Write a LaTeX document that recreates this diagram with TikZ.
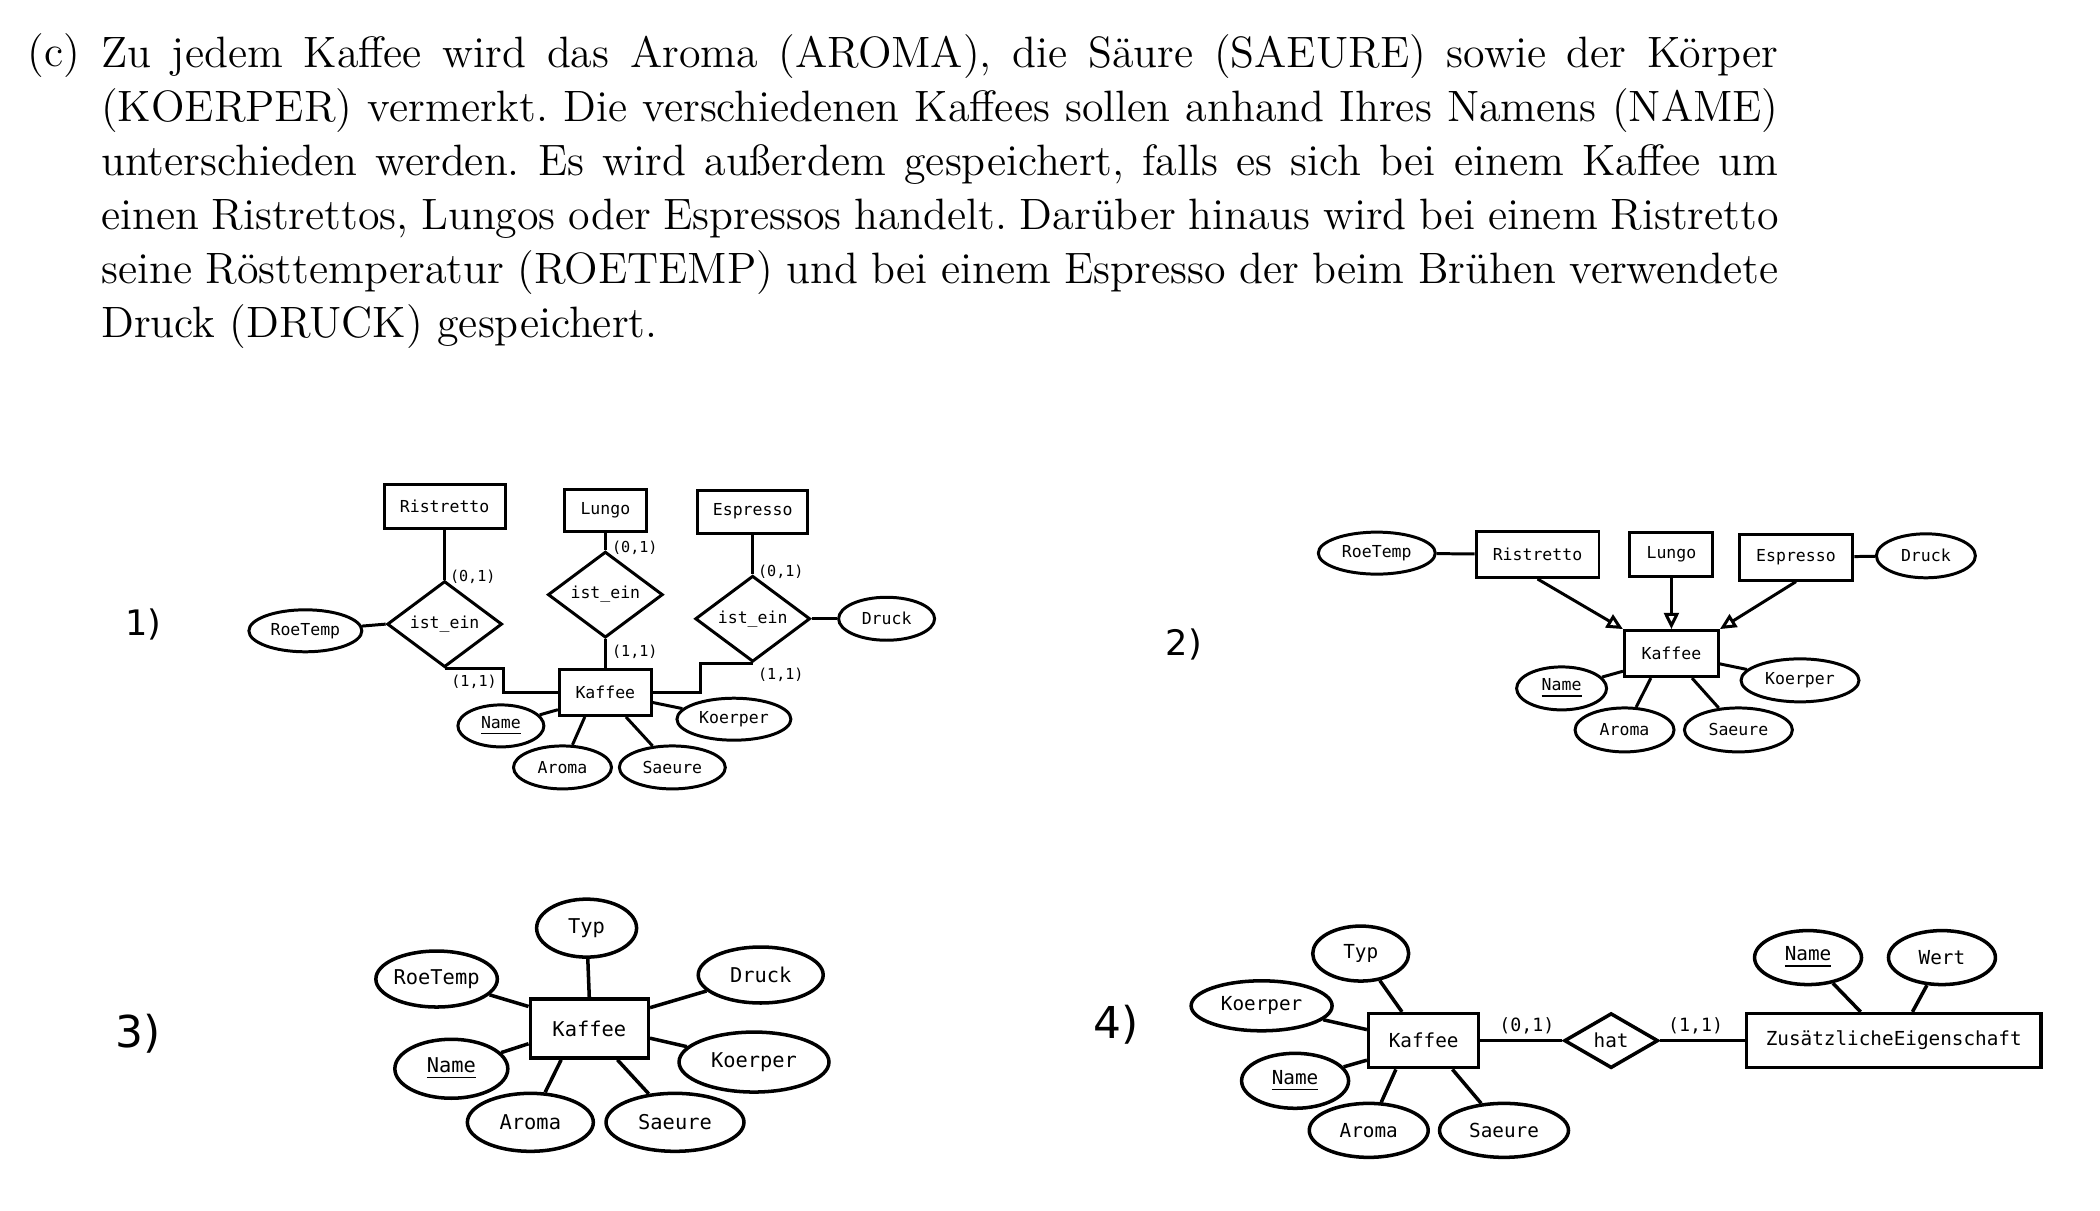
\documentclass[tikz,border=0pt]{standalone}
\usepackage{fontspec}
\setmonofont{DejaVu Sans Mono}
\newfontfamily\numfont{DejaVu Sans}
\usepackage{tikz}
\usetikzlibrary{shapes,arrows.meta}
\tikzstyle{entity} = [draw=black, rectangle, inner sep=0pt]
\tikzstyle{attr} = [draw=black, ellipse, inner sep=0pt]
\tikzstyle{rel} = [draw=black, diamond, inner sep=0pt]
\tikzstyle{card} = [inner sep=0pt]
\tikzstyle{isa} = [-{Triangle[open, length=4.6pt, width=4.2pt]}]
\tikzstyle{ersmall} = [line width=0.85pt, font=\ttfamily\fontsize{4.7}{5.6}\selectfont]
\tikzstyle{erlarge} = [line width=1pt, font=\ttfamily\fontsize{5.7}{6.8}\selectfont]
\frenchspacing

\begin{document}
\begin{tikzpicture}[x=0.013393cm, y=-0.013393cm]
        % Bounding box
        \useasboundingbox (0,0) rectangle (1568,903.5);

        % Task text
        \node[anchor=base west, inner sep=0pt, font=\fontsize{12.5}{15.4}\selectfont] (lblc) at (20,50) {(c)};
        \node[anchor=north west, inner sep=0pt, align=left, font=\fontsize{12.5}{15.4}\selectfont] (task) at (75,25) {%
          \makebox[16.78cm][s]{Zu jedem Kaffee wird das Aroma (AROMA), die Säure (SAEURE) sowie der Körper}\\
          \makebox[16.78cm][s]{(KOERPER) vermerkt. Die verschiedenen Kaffees sollen anhand Ihres Namens (NAME)}\\
          \makebox[16.78cm][s]{unterschieden werden. Es wird außerdem gespeichert, falls es sich bei einem Kaffee um}\\
          \makebox[16.78cm][s]{einen Ristrettos, Lungos oder Espressos handelt. Darüber hinaus wird bei einem Ristretto}\\
          \makebox[16.78cm][s]{seine Rösttemperatur (ROETEMP) und bei einem Espresso der beim Brühen verwendete}\\
          Druck (DRUCK) gespeichert.};

        % Numbers
        \node[font=\numfont\fontsize{10}{12}\selectfont] (num1) at (107,466) {1)};
        \node[font=\numfont\fontsize{10}{12}\selectfont] (num2) at (884,481) {2)};
        \node[font=\numfont\fontsize{12.5}{15}\selectfont] (num3) at (103,772) {3)};
        \node[font=\numfont\fontsize{12.5}{15}\selectfont] (num4) at (833,765) {4)};

        % 1) relationships ist_ein
        \begin{scope}[ersmall]
        \node[entity, minimum width=1.21cm, minimum height=0.44cm] (rist1) at (332,378) {Ristretto};
        \node[entity, minimum width=0.82cm, minimum height=0.42cm] (lung1) at (452,381) {Lungo};
        \node[entity, minimum width=1.10cm, minimum height=0.43cm] (esp1) at (562,382) {Espresso};
        \node[rel, minimum width=1.15cm, minimum height=0.70cm] (isa1) at (332,466) {ist\_ein};
        \node[rel, minimum width=1.15cm, minimum height=0.70cm] (isa2) at (452,444) {ist\_ein};
        \node[rel, minimum width=1.15cm, minimum height=0.70cm] (isa3) at (562,462) {ist\_ein};
        \node[attr, minimum width=1.13cm, minimum height=0.42cm] (roe1) at (228,471) {RoeTemp};
        \node[attr, minimum width=0.96cm, minimum height=0.43cm] (druck1) at (662,462) {Druck};
        \node[entity, minimum width=0.92cm, minimum height=0.46cm] (kaf1) at (452,517) {Kaffee};
        \node[attr, minimum width=0.86cm, minimum height=0.42cm] (name1) at (374,542) {\underline{Name}};
        \node[attr, minimum width=0.98cm, minimum height=0.43cm] (aroma1) at (420,573) {Aroma};
        \node[attr, minimum width=1.06cm, minimum height=0.43cm] (saeure1) at (502,573) {Saeure};
        \node[attr, minimum width=1.14cm, minimum height=0.42cm] (koerper1) at (548,537) {Koerper};

        \draw (rist1.south) -- (isa1.north);
        \draw (isa1.south) -- ++(44,0) |- (kaf1.west);
        \draw (lung1.south) -- (isa2.north);
        \draw (isa2.south) -- (kaf1.north);
        \draw (esp1.south) -- (isa3.north);
        \draw (isa3.south) -- ++(-39,0) |- (kaf1.east);
        \draw (roe1) -- (isa1.west);
        \draw (isa3.east) -- (druck1);
        \draw (kaf1.-160) -- (name1);
        \draw (kaf1.-130) -- (aroma1);
        \draw (kaf1.-50) -- (saeure1);
        \draw (kaf1.-12) -- (koerper1);

        \node[card, font=\ttfamily\fontsize{4.3}{5}\selectfont] (c1a) at (353,431) {(0,1)};
        \node[card, font=\ttfamily\fontsize{4.3}{5}\selectfont] (c1b) at (354,509) {(1,1)};
        \node[card, font=\ttfamily\fontsize{4.3}{5}\selectfont] (c1c) at (474,409) {(0,1)};
        \node[card, font=\ttfamily\fontsize{4.3}{5}\selectfont] (c1d) at (474,487) {(1,1)};
        \node[card, font=\ttfamily\fontsize{4.3}{5}\selectfont] (c1e) at (583,427) {(0,1)};
        \node[card, font=\ttfamily\fontsize{4.3}{5}\selectfont] (c1f) at (583,504) {(1,1)};
        \end{scope}

        % 2) generalisation
        \begin{scope}[ersmall]
        \node[attr, minimum width=1.17cm, minimum height=0.42cm] (roe2) at (1028,413) {RoeTemp};
        \node[entity, minimum width=1.23cm, minimum height=0.46cm] (rist2) at (1148,414) {Ristretto};
        \node[entity, minimum width=0.83cm, minimum height=0.44cm] (lung2) at (1248,414) {Lungo};
        \node[entity, minimum width=1.14cm, minimum height=0.46cm] (esp2) at (1341,416) {Espresso};
        \node[attr, minimum width=0.99cm, minimum height=0.44cm] (druck2) at (1438,415) {Druck};
        \node[entity, minimum width=0.94cm, minimum height=0.46cm] (kaf2) at (1248,488) {Kaffee};
        \node[attr, minimum width=0.90cm, minimum height=0.43cm] (name2) at (1166,514) {\underline{Name}};
        \node[attr, minimum width=0.99cm, minimum height=0.44cm] (aroma2) at (1213,545) {Aroma};
        \node[attr, minimum width=1.08cm, minimum height=0.44cm] (saeure2) at (1298,545) {Saeure};
        \node[attr, minimum width=1.18cm, minimum height=0.43cm] (koerper2) at (1344,508) {Koerper};

        \draw (roe2) -- (rist2);
        \draw (esp2) -- (druck2);
        \draw[isa] (rist2.south) -- (kaf2.north west);
        \draw[isa] (lung2.south) -- (kaf2.north);
        \draw[isa] (esp2.south) -- (kaf2.north east);
        \draw (kaf2.-160) -- (name2);
        \draw (kaf2.-130) -- (aroma2);
        \draw (kaf2.-50) -- (saeure2);
        \draw (kaf2.-12) -- (koerper2);
        \end{scope}

        % 3) one entity with Typ
        \begin{scope}[erlarge, font=\ttfamily\fontsize{5.8}{7}\selectfont]
        \node[entity, minimum width=1.18cm, minimum height=0.59cm] (kaf3) at (440,768) {Kaffee};
        \node[attr, minimum width=1.00cm, minimum height=0.58cm] (typ3) at (438,693) {Typ};
        \node[attr, minimum width=1.15cm, minimum height=0.56cm] (roe3) at (326,731) {RoeTemp};
        \node[attr, minimum width=1.25cm, minimum height=0.56cm] (druck3) at (568,728) {Druck};
        \node[attr, minimum width=1.13cm, minimum height=0.59cm] (name3) at (337,798) {\underline{Name}};
        \node[attr, minimum width=1.50cm, minimum height=0.60cm] (koerper3) at (563,793) {Koerper};
        \node[attr, minimum width=1.26cm, minimum height=0.58cm] (aroma3) at (396,838) {Aroma};
        \node[attr, minimum width=1.38cm, minimum height=0.58cm] (saeure3) at (504,838) {Saeure};

        \draw (typ3) -- (kaf3.north);
        \draw (kaf3.160) -- (roe3);
        \draw (kaf3.19) -- (druck3);
        \draw (kaf3.-166) -- (name3);
        \draw (kaf3.-9) -- (koerper3);
        \draw (kaf3.-132) -- (aroma3);
        \draw (kaf3.-48) -- (saeure3);
        \end{scope}

        % 4) extra property entity
        \begin{scope}[erlarge, font=\ttfamily\fontsize{5.5}{6.6}\selectfont]
        \node[entity, minimum width=1.10cm, minimum height=0.54cm] (kaf4) at (1063,777) {Kaffee};
        \node[attr, minimum width=0.96cm, minimum height=0.55cm] (typ4) at (1016,712) {Typ};
        \node[attr, minimum width=1.41cm, minimum height=0.50cm] (koerper4) at (942,751) {Koerper};
        \node[attr, minimum width=1.07cm, minimum height=0.55cm] (name4) at (967,807) {\underline{Name}};
        \node[attr, minimum width=1.19cm, minimum height=0.54cm] (aroma4) at (1022,844) {Aroma};
        \node[attr, minimum width=1.29cm, minimum height=0.54cm] (saeure4) at (1123,844) {Saeure};
        \node[rel, minimum width=0.94cm, minimum height=0.55cm] (hat) at (1203,777) {hat};
        \node[entity, minimum width=2.95cm, minimum height=0.54cm] (zus) at (1414,777) {ZusätzlicheEigenschaft};
        \node[attr, minimum width=1.07cm, minimum height=0.54cm] (nameb) at (1350,715) {\underline{Name}};
        \node[attr, minimum width=1.07cm, minimum height=0.54cm] (wert) at (1450,715) {Wert};

        \draw (kaf4.127) -- (typ4);
        \draw (kaf4.169) -- (koerper4);
        \draw (kaf4.-161) -- (name4);
        \draw (kaf4.-134) -- (aroma4);
        \draw (kaf4.-45) -- (saeure4);
        \draw (kaf4.east) -- (hat.west);
        \draw (hat.east) -- (zus.west);
        \draw (zus.139) -- (nameb);
        \draw (zus.57) -- (wert);

        \node[card, font=\ttfamily\fontsize{5.2}{6}\selectfont] (c4a) at (1140,766) {(0,1)};
        \node[card, font=\ttfamily\fontsize{5.2}{6}\selectfont] (c4b) at (1266,766) {(1,1)};
        \end{scope}

    \end{tikzpicture}
\end{document}
